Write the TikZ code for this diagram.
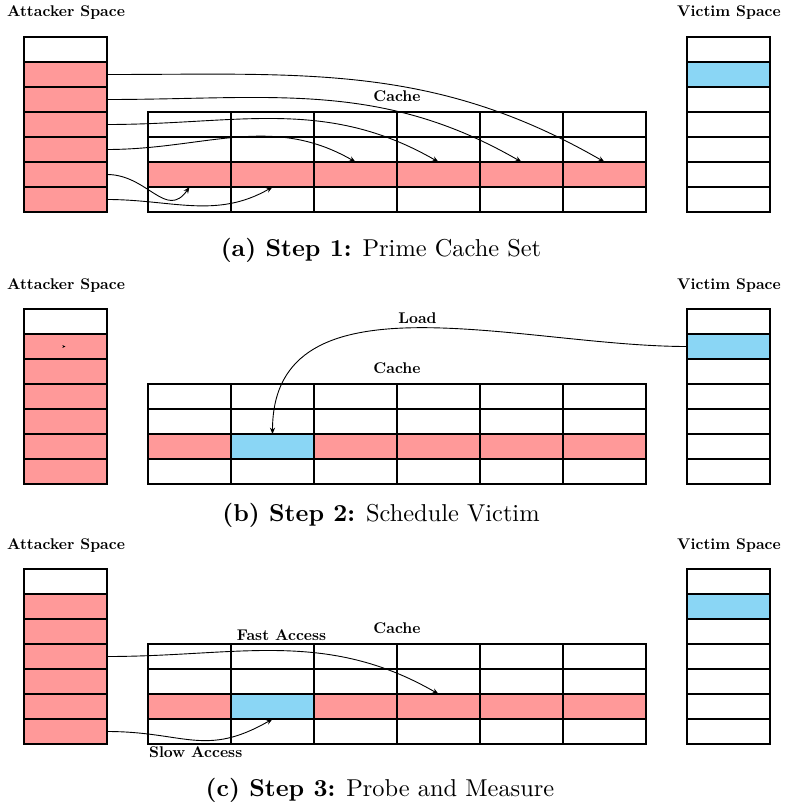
\documentclass[tikz,border=0pt]{standalone}
\usetikzlibrary{arrows.meta}

\definecolor{primed}{RGB}{255,153,153}
\definecolor{victimline}{RGB}{138,214,245}

\tikzset{
  cell/.style={draw=black, line width=0.6pt, minimum width=41.5pt, minimum height=12.5pt,
               inner sep=0pt, outer sep=0pt, anchor=north west},
  lbl/.style={font=\fontsize{10}{12}\selectfont\bfseries, scale=0.775, anchor=base, inner sep=0pt},
  subcaption/.style={font=\fontsize{10}{12}\selectfont, scale=1.22, anchor=base, inner sep=0pt},
  link/.style={-{Stealth[length=3.2pt,width=2.6pt]}, line width=0.45pt},
}

% One panel: attacker column, cache (4 sets x 6 ways), victim column
% #1 = name prefix, #2 = vertical offset, #3 = fill of cache cell (row 2, way 1)
\newcommand\cachepanel[3]{%
  \begin{scope}[shift={(0,-#2)}]
    \node[lbl] (#1AttLbl) at (66,-17) {Attacker Space};
    \node[lbl] (#1VicLbl) at (729,-17) {Victim Space};
    \node[lbl] (#1CacheLbl) at (397,-101.5) {Cache};
    \foreach \r/\f in {0/white,1/primed,2/primed,3/primed,4/primed,5/primed,6/primed}
      \node[cell, fill=\f] (#1A\r) at (24,{-37-25*\r}) {};
    \foreach \r/\f in {0/white,1/victimline,2/white,3/white,4/white,5/white,6/white}
      \node[cell, fill=\f] (#1V\r) at (687,{-37-25*\r}) {};
    \foreach \r in {0,...,3}
      \foreach \c in {0,...,5} {
        \ifnum\r=2
          \ifnum\c=1 \def\f{#3}\else\def\f{primed}\fi
        \else
          \def\f{white}%
        \fi
        \node[cell, fill=\f] (#1C\r\c) at ({148+83*\c},{-112-25*\r}) {};
      }
  \end{scope}%
}

\begin{document}
\begin{tikzpicture}[x=0.5pt,y=0.5pt]
  \useasboundingbox (0,0) rectangle (785,-808);

  % (a) Prime
  \cachepanel{a}{0}{primed}
  \draw[link] (aA1.east) to[out=0,in=150] (aC25.north);
  \draw[link] (aA2.east) to[out=0,in=150] (aC24.north);
  \draw[link] (aA3.east) to[out=0,in=150] (aC23.north);
  \draw[link] (aA4.east) to[out=0,in=150] (aC22.north);
  \draw[link] (aA5.east) to[out=0,in=-125,looseness=1.25] (aC20.south);
  \draw[link] (aA6.east) to[out=0,in=-150] (aC21.south);
  \node[subcaption] (capA) at (381,-256.5) {\textbf{(a) Step 1:} Prime Cache Set};

  % (b) Victim runs
  \cachepanel{b}{272}{victimline}
  \coordinate (bStub) at ([xshift=-0.1pt]bA1.center);
  \draw[-{Stealth[length=1.6pt,width=1.4pt]}, line width=0.3pt] (bStub) -- (bA1.center);
  \draw[link] (bV1.west) to[out=180,in=90] (bC21.north);
  \node[lbl] (loadLbl) at (417.5,-323) {Load};
  \node[subcaption] (capB) at (381,-521.5) {\textbf{(b) Step 2:} Schedule Victim};

  % (c) Probe
  \cachepanel{c}{532}{victimline}
  \draw[link] (cA3.east) to[out=0,in=150] (cC23.north);
  \draw[link] (cA6.east) to[out=0,in=-150,looseness=1.2] (cC21.south);
  \node[lbl] (fastLbl) at (281.5,-640) {Fast Access};
  \node[lbl] (slowLbl) at (195.7,-757.3) {Slow Access};
  \node[subcaption] (capC) at (380,-796) {\textbf{(c) Step 3:} Probe and Measure};
\end{tikzpicture}
\end{document}
